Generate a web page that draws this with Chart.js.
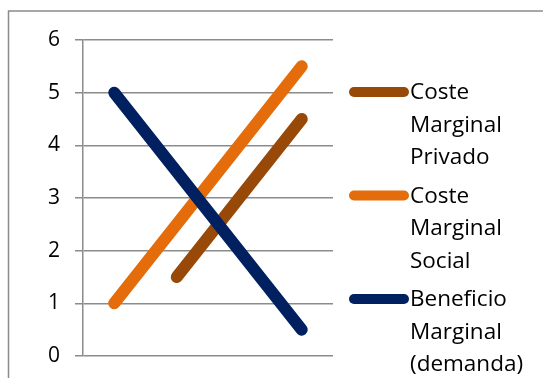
<!DOCTYPE html>
<html>
<head>
<meta charset="utf-8">
<script src="https://cdn.jsdelivr.net/npm/chart.js@4"></script>
<style>
  html, body { margin: 0; padding: 0; background: #fff; }
  #wrap { width: 543px; height: 378px; }
</style>
</head>
<body>
<div id="wrap"><canvas id="chart" width="543" height="378"></canvas></div>
<script>
// quantity steps along the (hidden) x axis
const labels = ['1', '2', '3', '4'];
const yTicks = [0, 1, 2, 3, 4, 5, 6];

const costePrivado = [null, 1.5, null, 4.5];
const costeSocial = [1, null, null, 5.5];
const beneficio = [5, null, null, 0.5];

const seriesNames = ['Coste Marginal Privado', 'Coste Marginal Social', 'Beneficio Marginal (demanda)'];
const seriesColors = ['#984807', '#E46C0A', '#002060'];

const FONT = '"Open Sans", sans-serif';
const GRID = '#8b8b8b';

// outer frame around the chart
const framePlugin = {
  id: 'frame',
  beforeDraw(chart) {
    const ctx = chart.ctx;
    ctx.save();
    ctx.strokeStyle = GRID;
    ctx.lineWidth = 1.5;
    ctx.strokeRect(8.5, 11, chart.width + 10, chart.height + 10);
    ctx.restore();
  }
};

// legend on the right, one word per line
const sideLegend = {
  id: 'sideLegend',
  afterDraw(chart) {
    const ctx = chart.ctx;
    ctx.save();
    ctx.font = '22.5px ' + FONT;
    ctx.textBaseline = 'middle';
    ctx.fillStyle = '#000';
    chart.data.datasets.forEach((ds, i) => {
      const y = 92 + i * 103.5;
      ctx.strokeStyle = ds.borderColor;
      ctx.lineWidth = 10;
      ctx.lineCap = 'round';
      ctx.beginPath();
      ctx.moveTo(354, y);
      ctx.lineTo(404, y);
      ctx.stroke();
      ds.label.split(' ').forEach((word, j) => {
        ctx.fillText(word, 410, y + 1 + j * 32.5);
      });
    });
    ctx.restore();
  }
};

const makeSet = (i, data, order) => ({
  label: seriesNames[i],
  data: data,
  borderColor: seriesColors[i],
  backgroundColor: seriesColors[i],
  borderWidth: 12,
  borderCapStyle: 'round',
  borderJoinStyle: 'round',
  pointRadius: 0,
  spanGaps: true,
  tension: 0,
  order: order
});

new Chart(document.getElementById('chart'), {
  type: 'line',
  data: {
    labels: labels,
    datasets: [
      makeSet(0, costePrivado, 2),
      makeSet(1, costeSocial, 1),
      makeSet(2, beneficio, 0)
    ]
  },
  options: {
    responsive: false,
    animation: false,
    layout: { padding: { left: 0, right: 210, top: 40, bottom: 22 } },
    plugins: {
      legend: { display: false },
      tooltip: { enabled: false }
    },
    scales: {
      x: { display: false, offset: true },
      y: {
        min: 0,
        max: 6,
        afterFit(scale) {
          scale.width = 83;
          scale.paddingTop = 0;
          scale.paddingBottom = 0;
        },
        afterBuildTicks(scale) { scale.ticks = yTicks.map(v => ({ value: v })); },
        ticks: {
          padding: 15,
          color: '#000',
          font: { family: FONT, size: 21 }
        },
        grid: { color: GRID, lineWidth: 1.5, tickLength: 8 },
        border: { color: GRID, width: 1.5 }
      }
    }
  },
  plugins: [framePlugin, sideLegend]
});
</script>
</body>
</html>
